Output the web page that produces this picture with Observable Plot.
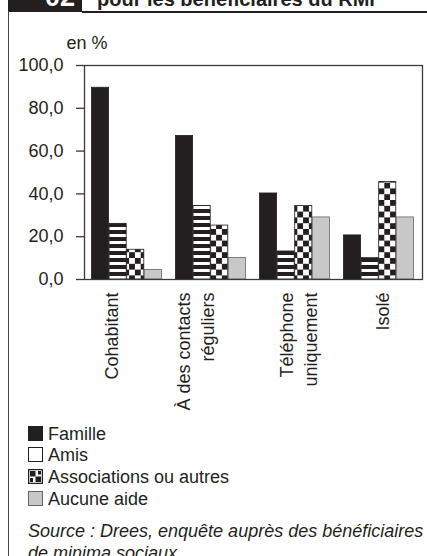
<!DOCTYPE html>
<html><head><meta charset="utf-8">
<script src="https://cdn.jsdelivr.net/npm/d3@7"></script>
<script src="https://cdn.jsdelivr.net/npm/@observablehq/plot@0.6"></script>
<style>
html,body{margin:0;padding:0;background:#fff;}
body{width:427px;height:556px;overflow:hidden;position:relative;font-family:"Liberation Sans",Arial,Helvetica,sans-serif;color:#231f20;}
.abs{position:absolute;white-space:nowrap;}
#hdrbox{left:8px;top:0;width:74px;height:12px;background:#231f20;}
#hdrnum{left:45px;top:-16px;font-size:27px;line-height:27px;font-weight:bold;color:#fff;}
#hdrtitle{left:97px;top:-11px;font-size:20px;line-height:20px;font-weight:bold;color:#231f20;}
#hdrrule{left:82px;top:11px;width:345px;height:1.6px;background:#231f20;}
#leftrule{left:7.5px;top:11px;width:1.5px;height:545px;background:#444;z-index:5;}
#unit{left:66.5px;top:31.8px;font-size:18px;line-height:22px;}
#chart{left:0;top:55px;}
#legend{left:28px;top:423.5px;font-size:18px;line-height:21.9px;}
#legend .row{height:21.9px;}
#legend svg{vertical-align:-1px;margin-right:5px;}
#source{left:28px;top:520px;font-size:18px;line-height:22px;font-style:italic;}
</style></head><body>
<div id="hdrbox" class="abs"></div>
<div id="hdrnum" class="abs">02</div>
<div id="hdrtitle" class="abs">pour les bénéficiaires du RMI</div>
<div id="hdrrule" class="abs"></div>
<div id="unit" class="abs">en %</div>
<div id="chart" class="abs"></div>
<div id="legend" class="abs"></div>
<div id="source" class="abs">Source : Drees, enquête auprès des bénéficiaires<br>de minima sociaux</div>
<div id="leftrule" class="abs"></div>
<script>
// ---- data ----
const categories = ["Cohabitant", "À des contacts\nréguliers", "Téléphone\nuniquement", "Isolé"];
const seriesNames = ["Famille", "Amis", "Associations ou autres", "Aucune aide"];
const famille = [89.6, 67.1, 40.2, 20.6];
const amis = [26.0, 34.4, 13.1, 10.1];
const associations = [13.9, 25.2, 34.4, 45.6];
const aucuneAide = [4.5, 10.1, 29.0, 29.0];
const yTicks = [0, 20, 40, 60, 80, 100];

// ---- styling ----
const ink = "#231f20";
const fills = [ink, "url(#stripes)", "url(#checker)", "#c8c8c8"];
const strokes = [ink, ink, ink, "#666"];
const seriesValues = [famille, amis, associations, aucuneAide];

const W = 427, H = 360, mL = 84, mR = 5, mT = 10, mB = 136;
const band = (W - mL - mR) / categories.length;
const barW = 17.6, lead = 6.5;

const bars = seriesValues.map((vals, i) =>
  Plot.barY(categories.map((c, j) => ({cat: c, value: vals[j]})), {
    x: "cat", y: "value",
    fill: fills[i], stroke: strokes[i], strokeWidth: 0.8,
    insetLeft: lead + i * barW,
    insetRight: band - lead - (i + 1) * barW
  })
);

const fmt = d => d3.format(".1f")(d).replace(".", ",");
const labelOpts = {
  x: d => d, frameAnchor: "bottom", rotate: -90, textAnchor: "end", lineAnchor: "middle",
  dy: 13, fontSize: 18, lineHeight: 1.3, fill: ink
};

const chart = Plot.plot({
  width: W, height: H,
  marginLeft: mL, marginRight: mR, marginTop: mT, marginBottom: mB,
  style: {fontFamily: '"Liberation Sans", Arial, sans-serif', color: ink, background: "transparent", overflow: "visible"},
  x: {domain: categories, padding: 0, axis: null},
  y: {domain: [0, 100], axis: null},
  marks: [
    ...bars,
    Plot.frame({stroke: "#3a3a3a", strokeWidth: 1.3}),
    Plot.axisY({ticks: yTicks, tickSize: 8, tickPadding: 13, tickFormat: fmt, fontSize: 18, label: null, stroke: "#3a3a3a", strokeWidth: 1.3, fill: ink}),
    Plot.text(categories.slice(0, 2), {...labelOpts, dx: -17}),
    Plot.text(categories.slice(2), {...labelOpts, dx: 2})
  ]
});

const defs = document.createElementNS("http://www.w3.org/2000/svg", "defs");
defs.innerHTML = `
<pattern id="stripes" patternUnits="userSpaceOnUse" width="8" height="7">
  <rect width="8" height="7" fill="#fff"/><rect width="8" height="4" fill="${ink}"/>
</pattern>
<pattern id="checker" patternUnits="userSpaceOnUse" width="11.6" height="11.6" patternTransform="translate(1.5,0)">
  <rect width="11.6" height="11.6" fill="#fff"/>
  <rect width="5.8" height="5.8" fill="${ink}"/>
  <rect x="5.8" y="5.8" width="5.8" height="5.8" fill="${ink}"/>
</pattern>`;
chart.insertBefore(defs, chart.firstChild);
document.getElementById("chart").appendChild(chart);

// ---- legend ----
const swatch = [
  `<rect x="0.5" y="0.5" width="14" height="14" fill="${ink}" stroke="${ink}"/>`,
  `<rect x="0.5" y="0.5" width="14" height="14" fill="#fff" stroke="${ink}"/>`,
  `<rect x="0.5" y="0.5" width="14" height="14" fill="#fff" stroke="${ink}" stroke-width="1.5"/><rect x="2" y="2" width="5.5" height="5.5" fill="${ink}"/><rect x="7.5" y="7.5" width="5.5" height="5.5" fill="${ink}"/><rect x="2" y="9" width="3" height="4" fill="${ink}"/><rect x="10" y="2" width="3" height="3.5" fill="${ink}"/>`,
  `<rect x="0.5" y="0.5" width="14" height="14" fill="#c8c8c8" stroke="#666"/>`
];
const legend = document.getElementById("legend");
seriesNames.forEach((name, i) => {
  const row = document.createElement("div");
  row.className = "row";
  row.innerHTML = `<svg width="15" height="15">${swatch[i]}</svg>` ;
  row.appendChild(document.createTextNode(name));
  legend.appendChild(row);
});
</script>
</body></html>
